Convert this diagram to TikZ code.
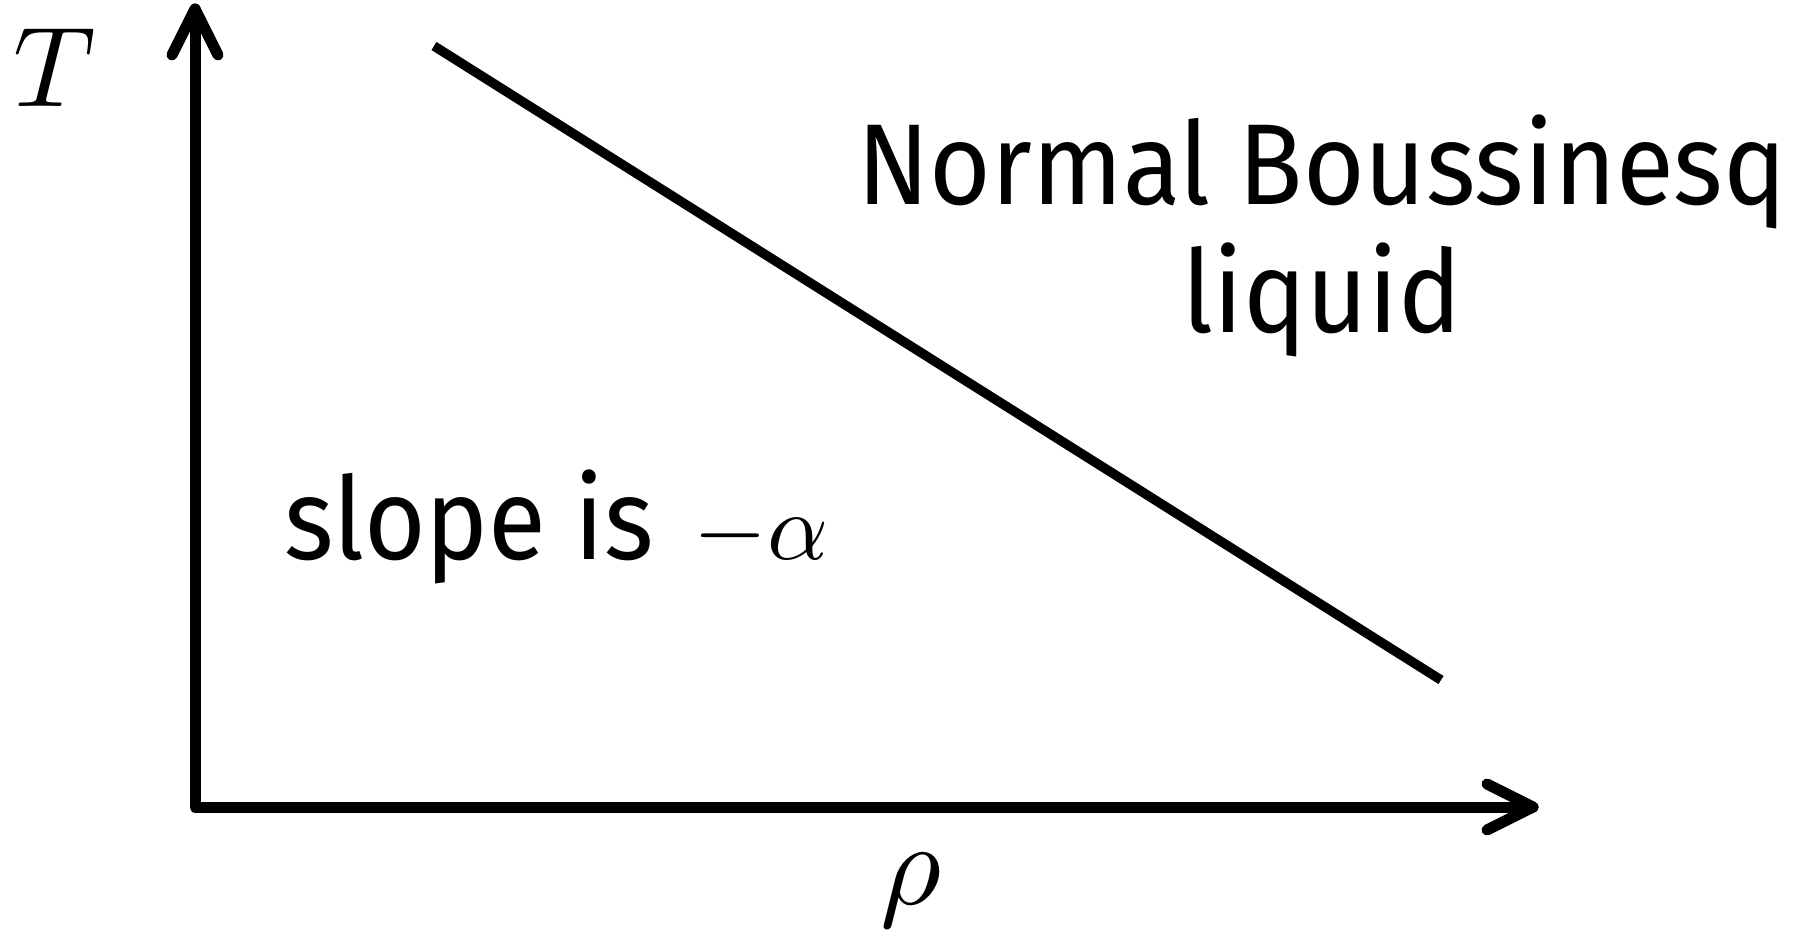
\documentclass[tikz,border=0pt]{standalone}
\usepackage{fontspec}
\usepackage{graphicx}
\newfontfamily\labelfont{Fira Sans}
\begin{document}
\begin{tikzpicture}[x=1pt,y=-1pt,
  axis/.style={line width=11pt,line cap=round,line join=round},
  curve/.style={line width=9.5pt},
  biglabel/.style={inner sep=0pt,font=\labelfont\fontsize{115}{128}\selectfont},
  mathlabel/.style={inner sep=0pt}]
\useasboundingbox (0,0) rectangle (1800,932);
% axes
\coordinate (origin) at (195,807);
\coordinate (ytip) at (195,9);
\coordinate (xtip) at (1533,807);
\coordinate (yb1) at (172,55);
\coordinate (yb2) at (218,55);
\coordinate (xb1) at (1487,784);
\coordinate (xb2) at (1487,830);
\draw[axis] (ytip) -- (origin) -- (xtip);
\draw[axis] (yb1) -- (ytip) -- (yb2);
\draw[axis] (xb1) -- (xtip) -- (xb2);
% line
\coordinate (lstart) at (434,46);
\coordinate (lend) at (1441,680);
\draw[curve] (lstart) -- (lend);
% labels
\node[mathlabel] (T) at (55,68) {\scalebox{11.4}{$T$}};
\node[mathlabel] (rho) at (911,891) {\scalebox{11.8}{$\rho$}};
\node[biglabel,anchor=base] (nb) at (1322,204) {\scalebox{0.92}[1]{Normal Boussinesq}};
\node[biglabel,anchor=base] (liq) at (1322,332) {\scalebox{0.92}[1]{liquid}};
\node[biglabel,anchor=base west] (slope) at (284,559) {\scalebox{0.92}[1]{slope is}\hspace{40pt}\scalebox{9.5}{\normalsize$-\alpha$}};
\end{tikzpicture}
\end{document}
